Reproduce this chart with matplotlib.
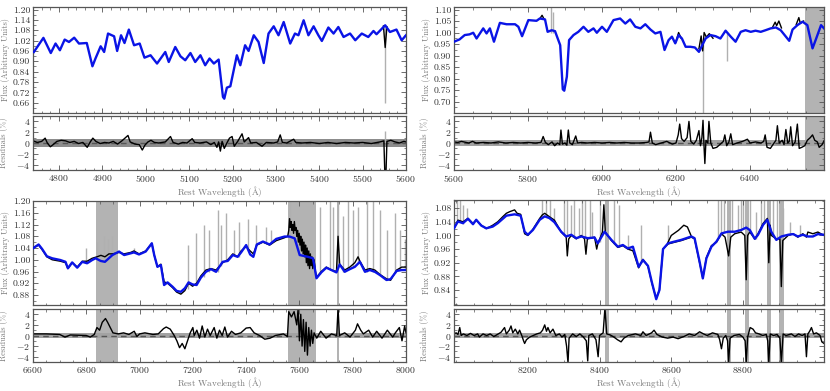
import numpy as np
import matplotlib.pyplot as plt
from matplotlib.ticker import MultipleLocator, FormatStrFormatter

plt.rcParams['font.family'] = 'serif'
plt.rcParams['font.serif'] = ['cmr10']
plt.rcParams['mathtext.fontset'] = 'cm'
plt.rcParams['axes.formatter.use_mathtext'] = True

# ---------------- dados ----------------
# painel 1 (4740-5600 A)
modelo_1 = [(4742, 0.954), (4764, 1.036), (4781, 0.948), (4792, 1.003), (4802, 0.964), (4813, 1.026),
            (4823, 1.012), (4835, 1.037), (4846, 1.003), (4864, 1.006), (4877, 0.871), (4884, 0.916),
            (4896, 0.987), (4904, 0.954), (4913, 1.061), (4927, 1.045), (4934, 0.960), (4943, 1.051),
            (4951, 1.006), (4961, 1.084), (4973, 0.993), (4986, 1.003), (4997, 0.921), (5011, 0.935),
            (5026, 0.887), (5045, 0.954), (5053, 0.896), (5068, 0.983), (5080, 0.929), (5091, 0.906),
            (5103, 0.948), (5114, 0.896), (5126, 0.935), (5137, 0.877), (5147, 0.916), (5157, 0.887),
            (5168, 0.910), (5178, 0.693), (5181, 0.683), (5187, 0.747), (5195, 0.755), (5210, 0.935),
            (5218, 0.877), (5229, 0.993), (5237, 0.960), (5249, 1.051), (5260, 1.012), (5272, 0.890),
            (5283, 1.061), (5295, 1.103), (5306, 1.051), (5318, 1.128), (5333, 1.003), (5344, 1.061),
            (5352, 1.051), (5364, 1.138), (5375, 1.051), (5387, 1.103), (5398, 1.051), (5406, 1.018),
            (5421, 1.096), (5433, 1.061), (5444, 1.099), (5456, 1.041), (5471, 1.061), (5483, 1.022),
            (5498, 1.061), (5513, 1.041), (5525, 1.076), (5532, 1.057), (5552, 1.109), (5563, 1.070),
            (5578, 1.084), (5590, 1.022), (5600, 1.051)]
obs_1 = [[(5548, 1.105), (5552, 0.98), (5556, 1.10)]]
ceu_1 = [(5552, 1.10, 0.66)]
bandas_1 = []
resid_1 = [(4740, 0.4), (4750, 0.1), (4760, 0.3), (4768, 0.9), (4773, 0.0), (4780, -0.7), (4788, -0.2),
           (4795, 0.3), (4805, 0.5), (4815, 0.4), (4825, 0.1), (4835, 0.3), (4845, -0.1), (4855, 0.1),
           (4865, -0.8), (4872, 0.2), (4878, 0.9), (4885, 0.3), (4895, -0.1), (4905, 0.1), (4915, 0.0),
           (4925, 0.3), (4935, -0.2), (4945, 0.4), (4959, 1.4), (4964, 0.2), (4975, -0.2), (4985, -0.3),
           (4992, -1.3), (4998, -0.4), (5005, 0.2), (5012, 0.5), (5020, 0.1), (5030, 0.0), (5045, 0.2),
           (5057, 1.2), (5063, 0.1), (5075, -0.2), (5085, 0.1), (5095, 0.0), (5107, 0.8), (5113, 0.1),
           (5125, 0.0), (5140, 0.2), (5150, -0.3), (5158, 0.1), (5164, -0.8), (5168, 0.2), (5172, -1.5),
           (5176, 0.3), (5181, -1.0), (5187, 0.0), (5193, 0.9), (5199, 1.2), (5204, -0.6), (5212, 0.3),
           (5222, 1.7), (5227, 0.2), (5237, 1.0), (5242, 0.0), (5255, 0.1), (5268, -0.6), (5278, 0.1),
           (5295, 0.0), (5304, 0.2), (5310, 1.5), (5315, 0.1), (5325, 0.0), (5341, 0.7), (5346, 0.1),
           (5360, 0.0), (5380, 0.1), (5400, -0.1), (5420, 0.1), (5440, -0.1), (5460, 0.1), (5480, 0.0),
           (5500, 0.1), (5520, -0.1), (5540, 0.2), (5549, 0.4), (5551, -5.2), (5554, -5.2), (5556, 0.3),
           (5565, 0.5), (5575, 0.2), (5585, 0.0), (5595, 0.3), (5600, 0.2)]
resid_ceu_1 = [(5552, 0.0, 2.2)]

# painel 2 (5600-6600 A)
modelo_2 = [(5600, 0.960), (5615, 0.970), (5629, 0.989), (5642, 0.992), (5652, 0.999), (5661, 0.974),
            (5679, 1.018), (5688, 0.996), (5697, 1.018), (5708, 0.960), (5724, 1.042), (5742, 1.036),
            (5765, 1.036), (5774, 1.025), (5784, 0.984), (5801, 1.054), (5823, 1.051), (5832, 1.061),
            (5846, 1.057), (5853, 1.003), (5864, 1.010), (5873, 1.006), (5887, 0.945), (5894, 0.753),
            (5898, 0.747), (5905, 0.808), (5911, 0.967), (5923, 0.989), (5936, 1.003), (5950, 1.025),
            (5963, 1.003), (5977, 1.018), (5986, 0.999), (6000, 1.025), (6013, 1.003), (6031, 1.054),
            (6049, 1.061), (6063, 1.039), (6076, 1.057), (6090, 1.025), (6104, 1.018), (6117, 1.036),
            (6131, 1.013), (6144, 0.996), (6158, 1.003), (6169, 0.924), (6180, 0.967), (6189, 0.982),
            (6198, 0.953), (6207, 0.989), (6216, 0.974), (6226, 0.938), (6239, 0.938), (6251, 0.935),
            (6262, 0.916), (6271, 0.945), (6280, 0.974), (6293, 0.989), (6307, 0.984), (6320, 0.974),
            (6334, 1.008), (6348, 0.982), (6361, 0.960), (6375, 1.003), (6388, 1.010), (6402, 1.003),
            (6415, 1.008), (6429, 1.003), (6442, 1.010), (6456, 1.018), (6470, 1.022), (6483, 1.010),
            (6497, 0.982), (6506, 0.964), (6515, 1.013), (6528, 1.032), (6542, 1.047), (6555, 1.032),
            (6569, 0.931), (6578, 0.970), (6592, 1.032), (6603, 1.013)]
obs_2 = [[(5832, 1.06), (5838, 1.075), (5843, 1.06)],
         [(6200, 0.96), (6207, 1.00), (6214, 0.975)],
         [(6262, 0.93), (6268, 0.985), (6272, 0.92), (6276, 1.00), (6282, 0.98), (6290, 0.995), (6300, 0.975)],
         [(6460, 1.02), (6468, 1.045), (6472, 1.03), (6478, 1.05), (6485, 1.02)],
         [(6525, 1.035), (6532, 1.065), (6536, 1.04), (6545, 1.05)]]
ceu_2 = [(5862, 1.00, 1.115), (5868, 1.00, 1.09), (6272, 0.96, 0.65), (6338, 1.00, 0.875)]
bandas_2 = [(6549, 6610)]
resid_2 = [(5600, 0.2), (5610, 0.1), (5620, 0.3), (5640, 0.0), (5650, 0.3), (5660, 0.0), (5680, 0.1),
           (5700, 0.0), (5720, 0.2), (5740, 0.0), (5760, 0.1), (5780, 0.0), (5800, 0.1), (5820, 0.0),
           (5835, 0.1), (5841, 1.2), (5847, 0.1), (5855, -0.3), (5865, 0.2), (5872, -0.5), (5880, 0.0),
           (5886, -0.3), (5889, 2.4), (5893, -0.2), (5900, 0.0), (5905, -0.4), (5909, 2.4), (5913, 0.0),
           (5920, -0.3), (5929, 1.3), (5934, 0.0), (5945, 0.1), (5960, 0.0), (5980, 0.1), (6000, 0.0),
           (6020, 0.1), (6040, 0.0), (6060, 0.1), (6080, 0.0), (6100, 0.0), (6120, 0.1), (6127, 0.2),
           (6131, 2.0), (6136, 0.0), (6145, -0.3), (6160, 0.0), (6175, 0.3), (6190, -0.2), (6200, 0.0),
           (6206, 1.5), (6210, 3.5), (6215, 0.8), (6222, 0.3), (6230, 1.0), (6235, 4.0), (6240, 0.3),
           (6248, -0.2), (6255, 0.5), (6262, 2.3), (6266, -0.5), (6270, 1.0), (6273, 4.2), (6276, -1.0),
           (6278, -3.8), (6281, 0.5), (6286, 0.0), (6289, 4.0), (6294, 0.0), (6300, -1.0), (6310, -0.8),
           (6320, -0.2), (6328, 0.3), (6332, 1.5), (6337, -0.5), (6343, 0.2), (6348, 1.7), (6353, -0.3),
           (6365, 0.0), (6380, 0.3), (6393, 0.7), (6400, 0.0), (6415, 0.2), (6430, 0.0), (6437, 0.3),
           (6441, 1.5), (6446, -0.8), (6455, -1.0), (6462, -0.3), (6470, 0.5), (6474, 3.2), (6479, 0.0),
           (6487, 0.5), (6492, -0.3), (6497, 2.5), (6502, 0.0), (6506, 0.3), (6510, 3.0), (6515, -0.5),
           (6522, 0.2), (6528, 3.5), (6533, -1.0), (6540, -0.8), (6548, -0.5), (6555, 0.5), (6563, 1.0),
           (6569, 1.5), (6575, 0.5), (6582, 0.2), (6587, -0.8), (6595, -0.3), (6600, 0.4)]
resid_ceu_2 = []

# painel 3 (6600-8000 A)
modelo_3 = [(6600, 1.039), (6621, 1.052), (6634, 1.037), (6652, 1.012), (6672, 1.005), (6703, 0.999),
            (6722, 0.993), (6731, 0.971), (6747, 0.991), (6766, 0.973), (6785, 0.993), (6803, 0.988),
            (6822, 0.999), (6835, 1.005), (6854, 0.996), (6870, 0.993), (6898, 1.016), (6923, 1.028),
            (6942, 1.016), (6967, 1.022), (6979, 1.025), (6998, 1.018), (7023, 1.028), (7046, 1.056),
            (7055, 1.016), (7067, 0.976), (7080, 0.982), (7092, 0.914), (7105, 0.923), (7124, 0.908),
            (7139, 0.894), (7155, 0.891), (7170, 0.903), (7184, 0.923), (7199, 0.916), (7214, 0.914),
            (7230, 0.939), (7249, 0.959), (7268, 0.968), (7287, 0.959), (7312, 0.993), (7331, 0.996),
            (7350, 1.016), (7368, 1.010), (7381, 1.025), (7400, 1.050), (7415, 1.018), (7427, 1.010),
            (7440, 1.052), (7463, 1.062), (7488, 1.052), (7513, 1.071), (7544, 1.079), (7563, 1.079),
            (7582, 1.073), (7601, 1.016), (7632, 1.010), (7651, 1.005), (7664, 0.937), (7682, 0.957),
            (7701, 0.973), (7720, 0.965), (7739, 0.957), (7751, 0.984), (7770, 0.959), (7789, 0.968),
            (7808, 0.976), (7827, 0.993), (7846, 0.959), (7864, 0.965), (7883, 0.959), (7902, 0.948),
            (7927, 0.931), (7942, 0.934), (7965, 0.962), (7984, 0.965), (8000, 0.965)]
obs_3 = [[(6600, 1.04), (6621, 1.05), (6634, 1.035), (6652, 1.01), (6672, 1.0), (6703, 0.995), (6722, 0.99),
          (6731, 0.97), (6747, 0.99), (6766, 0.975), (6785, 0.995), (6803, 0.995), (6822, 1.005),
          (6840, 1.01), (6855, 1.015), (6870, 1.01), (6885, 1.02), (6898, 1.02), (6923, 1.025),
          (6942, 1.02), (6967, 1.025), (6979, 1.03), (6998, 1.02), (7023, 1.03), (7046, 1.056),
          (7055, 1.016), (7067, 0.976), (7080, 0.985), (7092, 0.925), (7105, 0.92), (7124, 0.905),
          (7139, 0.89), (7155, 0.883), (7170, 0.895), (7184, 0.92), (7199, 0.91), (7214, 0.92),
          (7230, 0.945), (7249, 0.965), (7268, 0.97), (7287, 0.965), (7312, 0.99), (7331, 1.0),
          (7350, 1.02), (7368, 1.01), (7381, 1.03), (7400, 1.045), (7415, 1.03), (7427, 1.02),
          (7440, 1.05), (7463, 1.06), (7488, 1.05), (7513, 1.065), (7544, 1.075), (7556, 1.08),
          (7560, 1.10), (7563, 1.14), (7566, 1.11), (7569, 1.13), (7572, 1.10), (7575, 1.12),
          (7578, 1.09), (7581, 1.13), (7584, 1.10), (7587, 1.11), (7590, 1.08), (7593, 1.10),
          (7596, 1.06), (7599, 1.09), (7602, 1.05), (7605, 1.08), (7608, 1.03), (7611, 1.07),
          (7614, 1.02), (7617, 1.06), (7620, 1.01), (7623, 1.05), (7626, 0.99), (7629, 1.04),
          (7632, 0.98), (7635, 1.03), (7638, 0.97), (7641, 1.02), (7644, 0.98), (7647, 1.01),
          (7650, 0.97), (7655, 1.0), (7660, 0.96), (7664, 0.94), (7682, 0.96), (7701, 0.975),
          (7720, 0.965), (7739, 0.96), (7745, 1.08), (7751, 0.985), (7770, 0.965), (7789, 0.975),
          (7808, 0.99), (7820, 1.01), (7827, 0.995), (7846, 0.965), (7864, 0.97), (7883, 0.965),
          (7902, 0.95), (7927, 0.935), (7942, 0.93), (7965, 0.965), (7984, 0.975), (8000, 0.975)]]
ceu_3 = [(6800, 0.99, 1.04), (6840, 1.005, 1.06), (6865, 1.0, 1.08), (6880, 1.01, 1.07), (6895, 1.015, 1.08),
         (6980, 1.025, 1.04), (7180, 0.90, 1.05), (7211, 0.915, 1.09), (7243, 0.94, 1.12), (7262, 0.96, 1.10),
         (7293, 0.96, 1.17), (7306, 0.98, 1.12), (7325, 1.0, 1.16), (7356, 1.015, 1.10), (7375, 1.01, 1.13),
         (7406, 1.04, 1.14), (7438, 1.05, 1.12), (7475, 1.06, 1.11), (7494, 1.055, 1.10), (7563, 1.08, 1.20),
         (7676, 0.95, 1.18), (7714, 0.97, 1.20), (7726, 0.965, 1.18), (7745, 0.98, 1.20), (7764, 0.96, 1.15),
         (7783, 0.965, 1.20), (7802, 0.975, 1.17), (7820, 0.99, 1.18), (7852, 0.96, 1.20), (7877, 0.96, 1.20),
         (7902, 0.95, 1.17), (7927, 0.93, 1.10), (7959, 0.955, 1.16), (7977, 0.965, 1.10), (7996, 0.97, 1.07)]
bandas_3 = [(6835, 6920), (7558, 7662), (7740, 7750)]
resid_3 = [(6600, 0.3), (6650, 0.3), (6700, 0.2), (6720, -0.3), (6740, 0.1), (6800, 0.0), (6815, -0.3),
           (6830, 0.2), (6840, 1.5), (6850, 1.0), (6860, 2.5), (6872, 3.2), (6880, 2.5), (6890, 1.5),
           (6900, 0.5), (6920, 0.3), (6940, 0.5), (6960, 0.2), (6980, 0.8), (6990, -0.2), (7000, 0.3),
           (7020, 0.5), (7050, 0.2), (7070, 0.3), (7090, 1.3), (7100, 1.6), (7115, 1.2), (7130, 0.0),
           (7140, -1.0), (7150, -2.3), (7160, -1.5), (7170, -2.5), (7180, -1.0), (7190, 0.5), (7200, 1.5),
           (7205, 0.0), (7215, 1.0), (7225, -0.5), (7235, 1.8), (7245, -0.3), (7255, 1.2), (7265, 0.0),
           (7280, 1.5), (7290, -0.5), (7300, 1.0), (7310, 0.0), (7320, 1.6), (7330, -0.3), (7345, 0.8),
           (7360, 0.2), (7380, 0.5), (7400, 1.4), (7415, 1.5), (7430, 0.5), (7450, 0.0), (7470, -0.7),
           (7490, -0.5), (7510, 0.0), (7540, 0.3), (7555, -0.2), (7560, 4.5), (7570, 3.5), (7580, 4.5),
           (7590, 2.0), (7595, 5.0), (7600, -1.0), (7605, 4.0), (7610, -2.0), (7615, 3.0), (7620, -3.0),
           (7625, 2.5), (7630, -3.7), (7635, 1.5), (7640, -2.0), (7645, 1.0), (7650, -1.5), (7655, 0.5),
           (7665, -0.5), (7680, 0.8), (7700, -0.5), (7720, 0.3), (7740, 0.0), (7745, 5.2), (7750, 0.0),
           (7770, 0.5), (7790, -0.3), (7810, 1.0), (7818, 2.2), (7830, 1.0), (7840, 0.3), (7860, 1.0),
           (7875, -0.3), (7890, 0.8), (7910, -0.5), (7930, 1.0), (7950, -0.3), (7960, 0.5), (7975, 1.5),
           (7985, -1.0), (7995, 1.8), (8000, 0.5)]
resid_ceu_3 = []

# painel 4 (8000-9020 A)
modelo_4 = [(7994, 1.021), (8005, 1.041), (8019, 1.036), (8033, 1.049), (8047, 1.033), (8056, 1.046),
            (8070, 1.029), (8084, 1.021), (8102, 1.026), (8116, 1.036), (8140, 1.058), (8163, 1.062),
            (8180, 1.058), (8191, 1.011), (8200, 1.002), (8214, 1.016), (8233, 1.046), (8247, 1.056),
            (8260, 1.051), (8274, 1.039), (8293, 1.011), (8307, 0.997), (8321, 1.002), (8335, 0.992),
            (8349, 0.997), (8367, 0.992), (8386, 0.994), (8395, 0.977), (8414, 1.011), (8433, 0.987),
            (8451, 0.967), (8465, 0.972), (8479, 0.962), (8493, 0.967), (8509, 0.908), (8521, 0.928),
            (8535, 0.911), (8546, 0.862), (8558, 0.813), (8567, 0.840), (8577, 0.960), (8591, 0.977),
            (8609, 0.982), (8628, 0.987), (8642, 0.992), (8656, 0.997), (8665, 0.992), (8679, 0.923),
            (8688, 0.874), (8698, 0.933), (8712, 0.967), (8726, 0.982), (8740, 1.006), (8758, 1.011),
            (8777, 1.011), (8795, 1.016), (8809, 1.023), (8819, 1.016), (8833, 0.990), (8842, 1.002),
            (8856, 1.031), (8868, 1.046), (8879, 1.011), (8893, 0.987), (8907, 0.997), (8926, 1.002),
            (8940, 1.004), (8953, 0.997), (8967, 1.002), (8981, 0.997), (8995, 0.997), (9009, 1.004),
            (9026, 1.002)]
obs_4 = [[(7994, 1.02), (8005, 1.045), (8019, 1.04), (8033, 1.05), (8047, 1.035), (8056, 1.045), (8070, 1.03),
          (8084, 1.02), (8102, 1.03), (8116, 1.04), (8130, 1.055), (8140, 1.065), (8150, 1.07), (8163, 1.075),
          (8170, 1.065), (8180, 1.062), (8191, 1.005), (8200, 1.0), (8214, 1.018), (8233, 1.05), (8240, 1.06),
          (8247, 1.065), (8260, 1.055), (8274, 1.045), (8293, 1.01), (8307, 0.995), (8310, 0.94), (8314, 0.99),
          (8321, 1.0), (8335, 0.99), (8349, 1.0), (8358, 0.99), (8362, 0.945), (8366, 0.99), (8386, 0.995),
          (8392, 0.96), (8395, 0.975), (8408, 1.01), (8412, 1.09), (8416, 1.01), (8433, 0.985), (8451, 0.965),
          (8465, 0.97), (8479, 0.96), (8493, 0.955), (8509, 0.905), (8521, 0.93), (8535, 0.91), (8546, 0.86),
          (8558, 0.815), (8567, 0.84), (8577, 0.96), (8591, 0.975), (8609, 0.98), (8628, 0.985), (8642, 0.99),
          (8656, 0.995), (8665, 0.99), (8679, 0.92), (8688, 0.875), (8698, 0.935), (8712, 0.97), (8726, 0.98),
          (8740, 1.005), (8750, 0.995), (8760, 0.94), (8766, 0.995), (8777, 1.005), (8795, 1.01), (8805, 1.0),
          (8809, 0.87), (8813, 1.0), (8819, 1.01), (8833, 0.99), (8842, 1.005), (8856, 1.035), (8868, 1.05),
          (8872, 0.92), (8876, 1.03), (8879, 1.0), (8893, 0.99), (8903, 0.99), (8907, 0.85), (8911, 0.985),
          (8926, 1.0), (8940, 1.005), (8953, 0.995), (8967, 1.005), (8977, 0.995), (8981, 1.01), (8995, 1.005),
          (9009, 1.01), (9026, 1.0)],
         [(8590, 0.978), (8600, 1.0), (8620, 1.015), (8635, 1.03), (8645, 1.025), (8655, 1.0)]]
ceu_4 = [(8002, 1.04, 1.11), (8010, 1.04, 1.11), (8018, 1.035, 1.09), (8030, 1.045, 1.08), (8240, 1.05, 1.11),
         (8250, 1.055, 1.11), (8262, 1.05, 1.11), (8272, 1.04, 1.08), (8302, 1.0, 1.11), (8310, 1.0, 1.11),
         (8320, 1.0, 1.09), (8330, 0.995, 1.11), (8342, 0.995, 1.08), (8352, 0.997, 1.11), (8360, 0.995, 1.11),
         (8372, 0.993, 1.11), (8380, 0.993, 1.07), (8400, 0.98, 1.11), (8440, 0.975, 1.11), (8455, 0.967, 1.09),
         (8480, 0.96, 1.00), (8516, 0.92, 1.03), (8590, 0.977, 1.03), (8730, 0.995, 1.11), (8740, 1.005, 1.11),
         (8748, 1.01, 1.11), (8770, 1.011, 1.11), (8785, 1.013, 1.09), (8795, 1.016, 1.11), (8800, 1.02, 1.11),
         (8820, 1.016, 1.11), (8835, 0.99, 1.07), (8850, 1.02, 1.11), (8860, 1.04, 1.11), (8870, 1.045, 1.11),
         (8885, 1.0, 1.11), (8895, 0.99, 1.11), (8912, 0.997, 1.08), (8930, 1.0, 1.04), (8960, 1.0, 1.03)]
bandas_4 = [(8414, 8426), (8756, 8767), (8805, 8816), (8867, 8877), (8900, 8914)]
resid_4 = [(7994, 0.3), (8000, 0.5), (8005, 0.2), (8010, 1.5), (8014, 0.0), (8020, 0.3), (8030, 0.0), (8040, 0.4),
           (8050, 0.0), (8060, 0.3), (8065, -0.3), (8075, 0.3), (8085, 0.0), (8095, 0.3), (8105, -0.2),
           (8115, 0.2), (8125, 0.6), (8135, 1.5), (8140, 0.3), (8148, 1.0), (8153, 1.8), (8158, 0.5),
           (8165, 1.2), (8172, 0.3), (8177, 1.0), (8183, 0.0), (8188, -1.0), (8191, -1.5), (8196, -0.8),
           (8205, -0.3), (8215, 0.0), (8225, 0.3), (8235, 0.5), (8241, 1.0), (8247, 2.0), (8252, 0.8),
           (8256, 1.5), (8262, 0.5), (8270, 1.2), (8278, 0.0), (8288, 0.3), (8295, -0.3), (8303, 0.2),
           (8308, -2.0), (8312, -5.2), (8315, -0.5), (8325, 0.3), (8335, -0.2), (8345, 0.3), (8355, -0.3),
           (8363, -1.0), (8367, -4.8), (8370, 0.0), (8380, 0.3), (8390, -0.8), (8396, -4.0), (8400, 0.0),
           (8410, 0.5), (8415, 5.2), (8420, 0.3), (8430, 0.1), (8440, -0.3), (8450, -0.8), (8460, -1.2),
           (8468, -0.5), (8480, 0.0), (8500, 0.3), (8515, 0.0), (8521, 0.7), (8530, 0.0), (8545, 0.5),
           (8552, 1.0), (8560, 0.2), (8575, -0.3), (8590, -0.5), (8605, -0.3), (8619, -0.6), (8635, -0.2),
           (8650, 0.3), (8665, 0.0), (8679, 0.7), (8690, 0.3), (8700, 0.0), (8715, 0.5), (8730, 0.2),
           (8735, -0.8), (8740, -2.5), (8745, -0.5), (8752, 0.0), (8757, -1.0), (8760, -5.2), (8764, -0.5),
           (8775, 0.0), (8790, 0.2), (8800, -0.3), (8806, -1.0), (8809, -5.2), (8813, -0.3), (8820, 1.5),
           (8828, 1.2), (8835, 0.5), (8845, 0.3), (8855, 0.0), (8865, 0.2), (8869, -1.0), (8872, -5.2),
           (8876, 0.3), (8885, 0.0), (8895, 0.2), (8903, -0.5), (8907, -5.2), (8912, 0.3), (8920, 0.0),
           (8935, 0.3), (8945, -0.2), (8955, 0.3), (8965, 0.0), (8973, 0.3), (8977, -4.0), (8981, 0.3),
           (8986, 0.8), (8991, 1.5), (8997, 0.3), (9005, 0.5), (9015, 0.0), (9020, -1.2), (9026, -1.5)]
resid_ceu_4 = []

# limites e marcas de cada painel
limites_x = [(4740, 5600), (5600, 6600), (6600, 8000), (7994, 9026)]
marcas_x = [list(range(4800, 5601, 100)), list(range(5600, 6401, 200)),
            list(range(6600, 8001, 200)), list(range(8200, 8801, 200))]
menores_x = [20, 50, 50, 50]
limites_fluxo = [(0.60, 1.215), (0.65, 1.111), (0.846, 1.20), (0.796, 1.104)]
marcas_fluxo = [np.arange(0.66, 1.201, 0.06), np.arange(0.70, 1.101, 0.05),
                np.arange(0.88, 1.201, 0.04), np.arange(0.84, 1.081, 0.04)]
faixas_resid = [0.8, 0.6, 0.45, 0.5]
cores_faixa = ['#8c8c8c', '#a3a3a3', '#a3a3a3', '#a3a3a3']

# caixas em pixels (esq, topo, dir, base) -> principal, residuo
caixas = [((33, 7, 406, 113), (33, 116, 406, 170)),
          ((454, 7, 824, 113), (454, 116, 824, 170)),
          ((33, 201, 406, 305), (33, 309, 406, 362)),
          ((454, 200, 824, 305), (454, 309, 824, 362))]

LARG, ALT = 830, 391
COR_TEXTO = '#333333'
COR_ROTULO = '#7a7a7a'
COR_EIXO = '#555555'

fig = plt.figure(figsize=(LARG / 100, ALT / 100), dpi=100)


def criar_eixo(caixa):
    esq, topo, dir_, base = caixa
    return fig.add_axes([esq / LARG, 1 - base / ALT, (dir_ - esq) / LARG, (base - topo) / ALT])


def estilo(ax):
    for s in ax.spines.values():
        s.set_color(COR_EIXO)
        s.set_linewidth(0.9)
    ax.tick_params(which='both', direction='in', top=True, right=True, colors=COR_EIXO,
                   labelcolor=COR_TEXTO, labelsize=7, pad=2)
    ax.tick_params(which='major', length=3.5, width=0.6)
    ax.tick_params(which='minor', length=1.8, width=0.5)


def desenhar(i, modelo, obs, ceu, bandas, resid, resid_ceu):
    ax_f = criar_eixo(caixas[i][0])
    ax_r = criar_eixo(caixas[i][1])

    for a, b in bandas:
        ax_f.axvspan(a, b, color='#b3b3b3', lw=0, zorder=0)
        ax_r.axvspan(a, b, color='#b3b3b3', lw=0, zorder=0)

    lam_c = [c[0] for c in ceu]
    ax_f.vlines(lam_c, [c[1] for c in ceu], [c[2] for c in ceu], color='#b0b0b0', lw=1.0, zorder=1)
    for trecho in obs:
        ax_f.plot([p[0] for p in trecho], [p[1] for p in trecho], color='black', lw=1.0, zorder=2)
    ax_f.plot([p[0] for p in modelo], [p[1] for p in modelo], color='#0a14e6', lw=1.7, zorder=3)

    ax_r.axhspan(-faixas_resid[i], faixas_resid[i], color=cores_faixa[i], lw=0, zorder=0)
    ax_r.axhline(0, color='#555555', lw=1.0, ls='--', dashes=(4, 3), zorder=1)
    if resid_ceu:
        ax_r.vlines([c[0] for c in resid_ceu], [c[1] for c in resid_ceu], [c[2] for c in resid_ceu],
                    color='#b0b0b0', lw=1.0, zorder=1)
    ax_r.plot([p[0] for p in resid], [p[1] for p in resid], color='black', lw=1.0, zorder=2)

    for ax in (ax_f, ax_r):
        ax.set_xlim(*limites_x[i])
        ax.set_xticks(marcas_x[i])
        ax.xaxis.set_minor_locator(MultipleLocator(menores_x[i]))
        estilo(ax)
    ax_f.tick_params(labelbottom=False)

    ax_f.set_ylim(*limites_fluxo[i])
    ax_f.set_yticks(marcas_fluxo[i])
    ax_f.yaxis.set_major_formatter(FormatStrFormatter('%.2f'))
    ax_f.yaxis.set_minor_locator(MultipleLocator((marcas_fluxo[i][1] - marcas_fluxo[i][0]) / 2))
    ax_r.set_ylim(-5, 5)
    ax_r.set_yticks([-4, -2, 0, 2, 4])
    ax_r.yaxis.set_minor_locator(MultipleLocator(1))

    ax_f.set_ylabel('Flux (Arbitrary Units)', fontsize=6, color=COR_ROTULO, labelpad=2)
    ax_r.set_ylabel('Residuals (%)', fontsize=6, color=COR_ROTULO, labelpad=6)
    ax_r.set_xlabel(r'Rest Wavelength ($\mathrm{\AA}$)', fontsize=6.5, color=COR_ROTULO, labelpad=0)
    fig.align_ylabels([ax_f, ax_r])


desenhar(0, modelo_1, obs_1, ceu_1, bandas_1, resid_1, resid_ceu_1)
desenhar(1, modelo_2, obs_2, ceu_2, bandas_2, resid_2, resid_ceu_2)
desenhar(2, modelo_3, obs_3, ceu_3, bandas_3, resid_3, resid_ceu_3)
desenhar(3, modelo_4, obs_4, ceu_4, bandas_4, resid_4, resid_ceu_4)

fig.savefig('out.png', dpi=100)
